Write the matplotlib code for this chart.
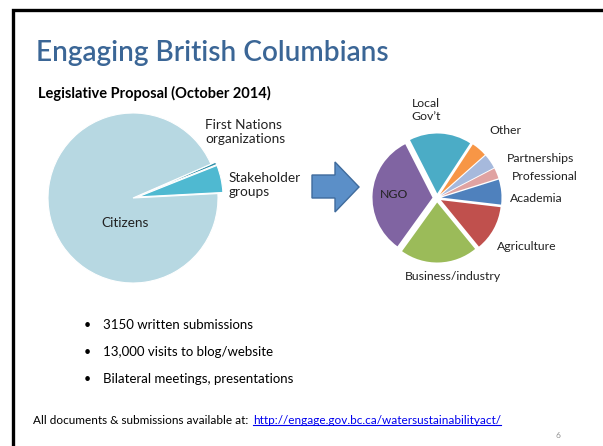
import matplotlib
matplotlib.use("Agg")
import matplotlib.pyplot as plt
from matplotlib.patches import Polygon

# ---- data ----
left_labels = ["Stakeholder\ngroups", "First Nations\norganizations", "Citizens"]
left_values = [5.2, 0.5, 94.3]
left_colors = ["#4FB9D1", "#2E8FA8", "#B7D8E2"]

right_labels = ["Local\nGov\u2019t", "Other", "Partnerships", "Professional", "Academia",
                "Agriculture", "Business/industry", "NGO"]
right_values = [16.7, 4.2, 3.9, 2.8, 6.7, 12.2, 20.8, 32.5]
right_colors = ["#4BACC6", "#F79646", "#A6B9DC", "#E0A3A2", "#4F81BD", "#C0504D", "#9BBB59", "#8064A2"]

title = "Engaging British Columbians"
subtitle = "Legislative Proposal (October 2014)"
bullets = ["3150 written submissions", "13,000 visits to blog/website", "Bilateral meetings, presentations"]
footer = "All documents & submissions available at:"
link = "http://engage.gov.bc.ca/watersustainabilityact/"
page = "6"

FONT = ["Lato", "DejaVu Sans"]
plt.rcParams['font.family'] = FONT

W, H = 603, 446
fig = plt.figure(figsize=(W / 100, H / 100), dpi=100)


def pix_axes():
    ax = fig.add_axes([0, 0, 1, 1])
    ax.set_xlim(0, W)
    ax.set_ylim(H, 0)
    ax.axis("off")
    return ax


def pie_axes(cx, cy, S):
    ax = fig.add_axes([(cx - S) / W, 1 - (cy + S) / H, 2 * S / W, 2 * S / H])
    ax.axis("off")
    return ax

bg = pix_axes()
# slide frame (left and top edges)
bg.plot([13, 13, W + 5], [H + 5, 10, 10], color="black", lw=2.4, solid_joinstyle="miter")

# left pie
axl = pie_axes(133, 198, 110)
axl.pie(left_values, colors=left_colors, startangle=3, counterclock=True,
        explode=[0.06, 0.06, 0.0], wedgeprops=dict(edgecolor="white", linewidth=0.8))
axl.set_xlim(-110 / 85, 110 / 85)
axl.set_ylim(-110 / 85, 110 / 85)

# right pie
axr = pie_axes(437, 198, 80)
axr.pie(right_values, colors=right_colors, startangle=117, counterclock=False,
        explode=[0.075] * len(right_values), wedgeprops=dict(edgecolor="none"))
axr.set_xlim(-80 / 60, 80 / 60)
axr.set_ylim(-80 / 60, 80 / 60)

fg = pix_axes()

# arrow
arrow = Polygon([(312, 175), (335, 175), (335, 162), (359, 187), (335, 212), (335, 198), (312, 198)],
                closed=True, facecolor="#5B8FC8", edgecolor="#3F6B9C", lw=1.0)
fg.add_patch(arrow)

# texts
fg.text(36, 53, title, fontsize=20.2, fontweight="semibold", color="#3B6696", va="center", ha="left")
fg.text(38, 93, subtitle, fontsize=10.5, fontweight="bold", color="black", va="center", ha="left")

labL = dict(fontsize=9.8, color="#222222", va="center", linespacing=1.2)
fg.text(205, 132, left_labels[1], ha="left", **labL)
fg.text(229, 185, left_labels[0], ha="left", **labL)
fg.text(125, 223, left_labels[2], ha="center", **labL)

lab = dict(fontsize=8.8, color="#222222", va="center", linespacing=1.3)
fg.text(426, 110, right_labels[0], ha="center", **lab)
fg.text(489, 131, right_labels[1], ha="left", **lab)
fg.text(507, 158, right_labels[2], ha="left", **lab)
fg.text(512, 177, right_labels[3], ha="left", **lab)
fg.text(510, 198, right_labels[4], ha="left", **lab)
fg.text(497, 247, right_labels[5], ha="left", **lab)
fg.text(405, 276, right_labels[6], ha="left", **lab)
fg.text(394, 195, right_labels[7], ha="center", **lab)

for i, b in enumerate(bullets):
    y = 325 + 27 * i
    fg.text(84, y, "\u2022", fontsize=9, color="black", va="center", ha="left")
    fg.text(103, y, b, fontsize=9.5, color="black", va="center", ha="left")

fg.text(33, 421, footer, fontsize=8.5, color="black", va="center", ha="left")
lt = fg.text(253, 421, link, fontsize=8.5, color="#0000EE", va="center", ha="left")
fg.text(556, 436, page, fontsize=6, color="#909090", va="center", ha="left")

fig.canvas.draw()
bb = lt.get_window_extent()
inv = fg.transData.inverted()
(x0, y0), (x1, y1) = inv.transform([[bb.x0, bb.y0], [bb.x1, bb.y0]])
fg.plot([x0, x1], [y0 - 1.5, y1 - 1.5], color="#0000EE", lw=0.8)

fig.savefig("out.png", dpi=100)
